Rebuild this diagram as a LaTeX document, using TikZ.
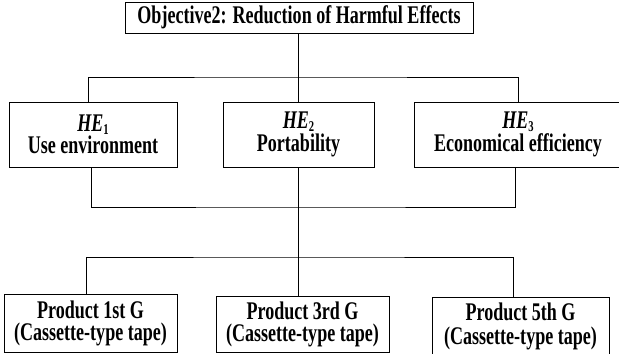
\documentclass[tikz,border=0pt]{standalone}
\usepackage{fontspec}
\setmainfont{Liberation Serif}[FakeStretch=0.71]
\newcommand{\subidx}[1]{\raisebox{-3bp}{\fontsize{15}{15}\selectfont #1}}
\begin{document}
\begin{tikzpicture}[x=1bp,y=-1bp,
  box/.style={draw=black, line width=0.9bp, fill=white, inner sep=0pt,
    align=center, font=\fontsize{25.5}{22.5}\selectfont\bfseries},
  link/.style={draw=black, line width=0.9bp}]
  \useasboundingbox (0,0) rectangle (619,353);

  % goal
  \node[box, minimum width=348bp, minimum height=31bp] (goal) at (299,17.5)
    {Objective2: Reduction of Harmful Effects};

  % harmful effects (the right one runs past the page edge)
  \node[box, minimum width=168bp, minimum height=65bp] (he1) at (93,134.5)
    {\textit{HE}\subidx{1}\\Use environment};
  \node[box, minimum width=151bp, minimum height=65bp] (he2) at (298.5,134.5)
    {\textit{HE}\subidx{2}\\Portability};
  \node[box, minimum width=208bp, minimum height=65bp] (he3) at (518,134.5)
    {\textit{HE}\subidx{3}\\Economical efficiency};

  % products
  \node[box, minimum width=173bp, minimum height=58bp] (p1) at (90.5,323.5)
    {Product 1st G\\(Cassette-type tape)};
  \node[box, minimum width=173bp, minimum height=56bp] (p3) at (302.5,324.5)
    {Product 3rd G\\(Cassette-type tape)};
  \node[box, minimum width=177bp, minimum height=60bp] (p5) at (520.5,327)
    {\raisebox{2.5bp}{\begin{tabular}{@{}c@{}}Product 5th G\\(Cassette-type tape)\end{tabular}}};

  % junctions
  \coordinate (j1) at (298,77);
  \coordinate (j2) at (298,207);
  \coordinate (j3) at (298,257);

  % goal to harmful effects
  \draw[link] (goal.south -| j1) -- (j1);
  \draw[link] ([xshift=-5bp]he1.north) |- (j1) -| (he3.north);
  \draw[link] (j1) -- (he2.north -| j1);

  % harmful effects to products
  \draw[link] ([xshift=-2bp]he1.south) |- (j2) -| ([xshift=-3bp]he3.south);
  \draw[link] (he2.south -| j2) -- (p3.north -| j2);
  \draw[link] ([xshift=-4.5bp]p1.north) |- (j3) -| ([xshift=-7.5bp]p5.north);
\end{tikzpicture}
\end{document}
